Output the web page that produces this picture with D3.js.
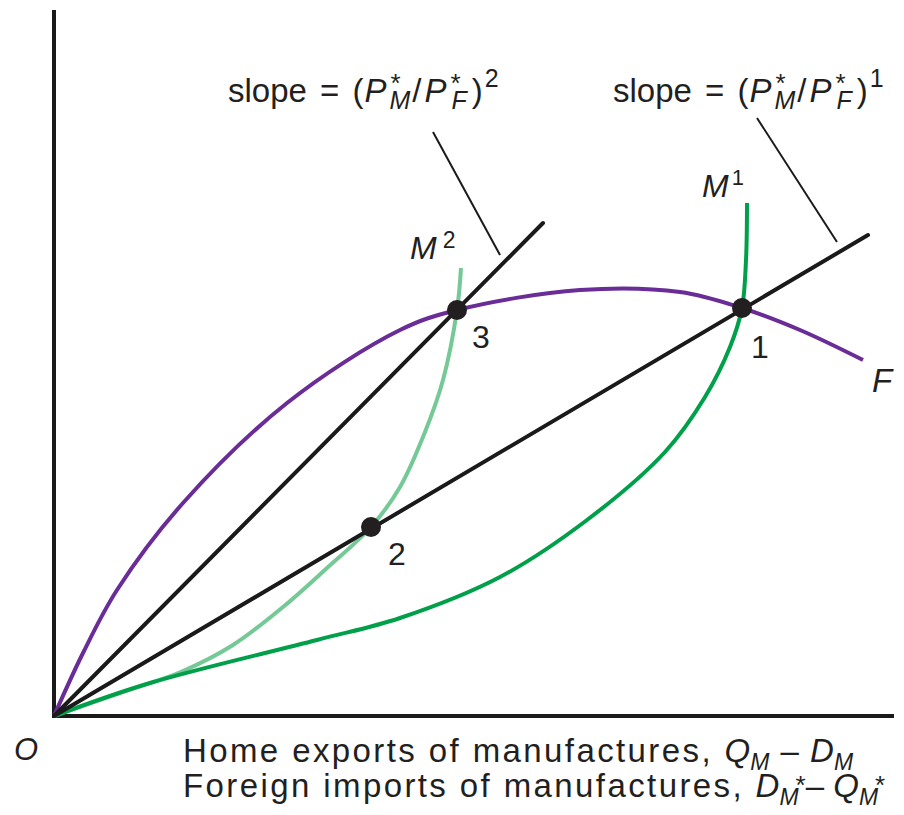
<!DOCTYPE html>
<html>
<head>
<meta charset="utf-8">
<script src="https://cdn.jsdelivr.net/npm/d3@7"></script>
<style>
  html, body { margin: 0; padding: 0; background: #fff; }
  text { font-family: 'Liberation Sans', Arial, Helvetica, sans-serif; fill: #231f20; white-space: pre; }
</style>
</head>
<body>
<svg id="chart" width="904" height="815"></svg>
<script>
// values (x = exports/imports, y = foreign offer)
var fCurve = [[0,0],[29,63],[63,126],[129,213],[233,313],[346,386],[403,406],[526,426],[626,424],[688,408],[746,386],[809,356]];
var m2Curve = [[0,0],[63,22],[129,45],[179,71],[229,109],[273,148],[317,189],[346,229],[371,284],[389,336],[403,406],[407,448]];
var m1Curve = [[0,0],[96,33],[263,76],[346,98],[446,139],[533,196],[611,264],[651,319],[676,369],[688,408],[692,456],[693,513]];
var slopeLines = [
    {name: "slope2", end: [489,493]},
    {name: "slope1", end: [814,481]}
];
var equilibria = [
    {label: "1", x: 688, y: 408},
    {label: "2", x: 317, y: 189},
    {label: "3", x: 403, y: 406}
];

var svg = d3.select("#chart");

let x = d3.scaleLinear().domain([0, 840]).range([54, 894]);
let y = d3.scaleLinear().domain([0, 706]).range([716, 10]);

let line = d3.line()
    .x(d => x(d[0]))
    .y(d => y(d[1]))
    .curve(d3.curveCatmullRom.alpha(0.5));

// axes
svg.append("path")
    .attr("d", "M" + x(0) + "," + y(706) + "V" + y(0) + "H" + x(840))
    .attr("fill", "none")
    .attr("stroke", "#1a1a1a")
    .attr("stroke-width", 4);

// offer curves
svg.append("path").attr("d", line(fCurve))
    .attr("fill", "none").attr("stroke", "#6a2c96").attr("stroke-width", 4);
svg.append("path").attr("d", line(m2Curve))
    .attr("fill", "none").attr("stroke", "#74c996").attr("stroke-width", 4);
svg.append("path").attr("d", line(m1Curve))
    .attr("fill", "none").attr("stroke", "#00a04b").attr("stroke-width", 4);

// relative price lines
svg.selectAll(".slope")
    .data(slopeLines)
    .enter().append("line")
    .attr("class", "slope")
    .attr("x1", x(0)).attr("y1", y(0))
    .attr("x2", d => x(d.end[0])).attr("y2", d => y(d.end[1]))
    .attr("stroke", "#1a1a1a")
    .attr("stroke-width", 4)
    .attr("stroke-linecap", "round");

// equilibrium dots
svg.selectAll(".eq")
    .data(equilibria)
    .enter().append("circle")
    .attr("cx", d => x(d.x)).attr("cy", d => y(d.y))
    .attr("r", 10)
    .attr("fill", "#231f20");

let numOffset = {"1": [9, 50], "2": [17, 38], "3": [15, 38]};
svg.selectAll(".eqlab")
    .data(equilibria)
    .enter().append("text")
    .attr("x", d => x(d.x) + numOffset[d.label][0])
    .attr("y", d => y(d.y) + numOffset[d.label][1])
    .style("font-size", "32px")
    .text(d => d.label);

// leader lines for the slope labels
svg.append("line").attr("x1", 433).attr("y1", 132).attr("x2", 500).attr("y2", 255)
    .attr("stroke", "#1a1a1a").attr("stroke-width", 2);
svg.append("line").attr("x1", 757).attr("y1", 118).attr("x2", 837).attr("y2", 242)
    .attr("stroke", "#1a1a1a").attr("stroke-width", 2);

// text made of pieces, each piece measured to place the next one
function rich(x0, y0, pieces, size){
    let g = svg.append("g");
    let cx = x0;
    for (let p of pieces){
        let parts = p.stack ? p.stack : [p];
        let w = 0;
        for (let s of parts){
            let t = g.append("text")
                .attr("x", cx + (s.dx || 0))
                .attr("y", y0 + (s.dy || 0))
                .style("font-size", (s.size || size) + "px")
                .style("font-style", s.i ? "italic" : "normal")
                .style("letter-spacing", (s.ls || 0) + "px")
                .style("word-spacing", (s.ws || 0) + "px")
                .text(s.t);
            w = Math.max(w, t.node().getComputedTextLength() + (s.dx || 0));
        }
        cx += w + (p.gap || 0);
    }
    return g;
}

function slopeLabel(x0, y0, power){
    rich(x0, y0, [
        {t: "slope = (", ws: 4},
        {t: "P", i: true, dx: 1},
        {stack: [{t: "*", size: 26, dy: -10, dx: 4}, {t: "M", i: true, size: 25, dy: 7, dx: 3}], gap: 2},
        {t: "/", gap: 3},
        {t: "P", i: true},
        {stack: [{t: "*", size: 26, dy: -10, dx: 4}, {t: "F", i: true, size: 25, dy: 7, dx: 5}], gap: 5},
        {t: ")"},
        {t: power, size: 25, dy: -15, dx: 2}
    ], 33);
}
slopeLabel(228, 102, "2");
slopeLabel(613, 102, "1");

// curve names
rich(410, 259, [{t: "M", i: true}, {t: "2", size: 23, dy: -11, dx: 6}], 32);
rich(702, 197, [{t: "M", i: true}, {t: "1", size: 22, dy: -12, dx: 3}], 32);
rich(872, 392, [{t: "F", i: true}], 33);
rich(14, 760, [{t: "O", i: true}], 31);

// axis titles
rich(183, 762, [
    {t: "Home exports of manufactures, ", ls: 2.4},
    {t: "Q", i: true},
    {t: "M", i: true, size: 23, dy: 8},
    {t: " – ", ws: 2},
    {t: "D", i: true},
    {t: "M", i: true, size: 23, dy: 8}
], 33);
rich(183, 797, [
    {t: "Foreign imports of manufactures, ", ls: 2.4},
    {t: "D", i: true},
    {t: "M", i: true, size: 23, dy: 8},
    {t: "*", size: 26, dy: -3, dx: -3},
    {t: "– "},
    {t: "Q", i: true},
    {t: "M", i: true, size: 23, dy: 8},
    {t: "*", size: 26, dy: -3, dx: -3}
], 33);
</script>
</body>
</html>
